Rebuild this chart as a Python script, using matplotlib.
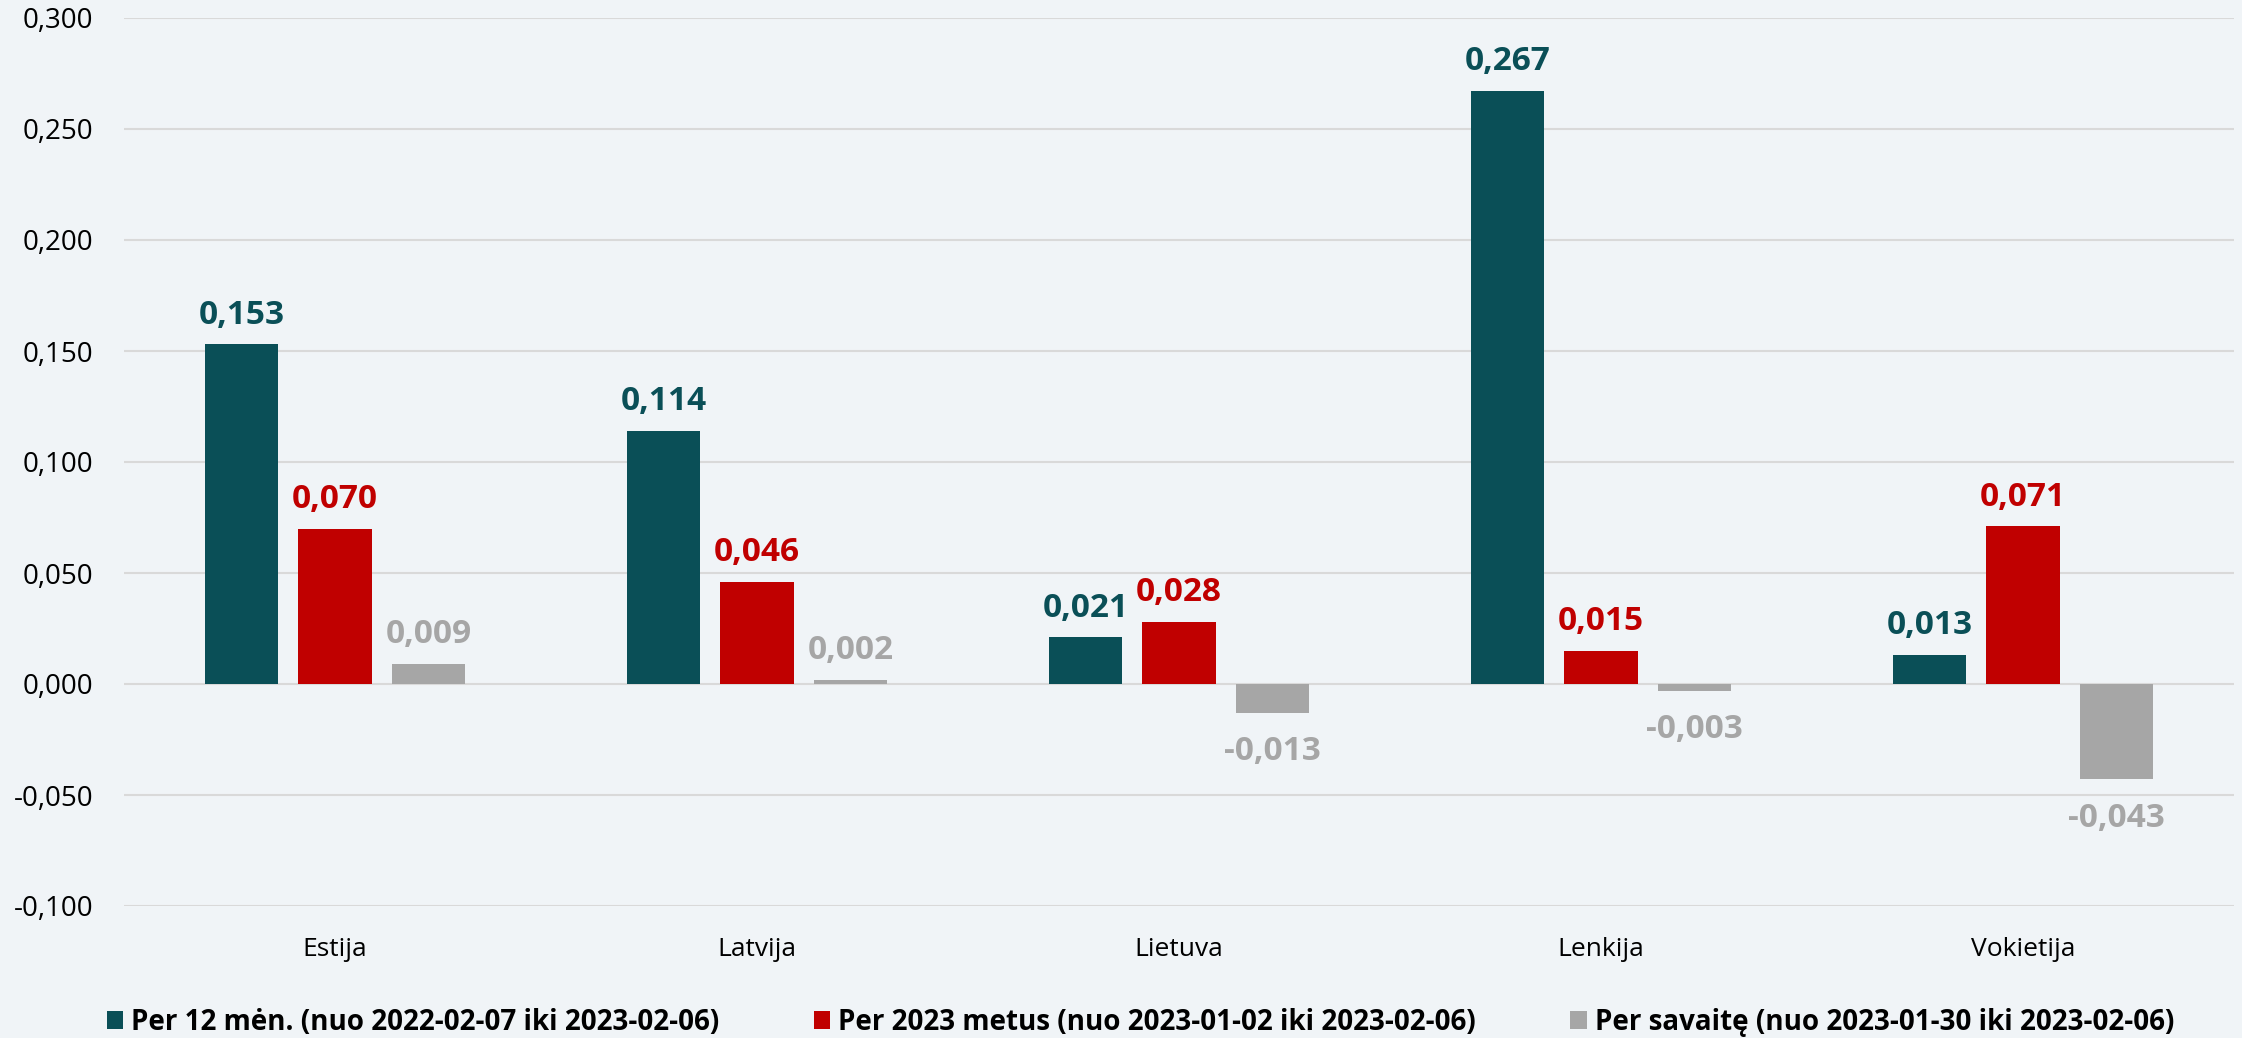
import numpy as np
import matplotlib.pyplot as plt

plt.rcParams['font.family'] = ['Open Sans', 'DejaVu Sans']

countries = ['Estija', 'Latvija', 'Lietuva', 'Lenkija', 'Vokietija']
per_12_men = [0.153, 0.114, 0.021, 0.267, 0.013]
per_2023 = [0.070, 0.046, 0.028, 0.015, 0.071]
per_savaite = [0.009, 0.002, -0.013, -0.003, -0.043]
series_names = ['Per 12 mėn. (nuo 2022-02-07 iki 2023-02-06)',
                'Per 2023 metus (nuo 2023-01-02 iki 2023-02-06)',
                'Per savaitę (nuo 2023-01-30 iki 2023-02-06)']
yticks = [-0.1, -0.05, 0.0, 0.05, 0.1, 0.15, 0.2, 0.25, 0.3]

bar_colors = ['#0A4F57', '#C00000', '#A6A6A6']
bg = '#F0F4F7'

fig = plt.figure(figsize=(22.42, 10.38), dpi=100, facecolor=bg)
ax = fig.add_axes([124/2242, 132/1038, 2110/2242, 888/1038])
ax.set_facecolor(bg)

x = np.arange(len(countries))
width = 0.175
step = 0.2216

all_series = [per_12_men, per_2023, per_savaite]
for i, vals in enumerate(all_series):
    pos = x + (i - 1) * step
    ax.bar(pos, vals, width, color=bar_colors[i], label=series_names[i], zorder=3)
    for px, v in zip(pos, vals):
        txt = '{:.3f}'.format(v).replace('.', ',')
        if v >= 0:
            ax.annotate(txt, (px, v), xytext=(0, 15), textcoords='offset points',
                        ha='center', va='baseline', fontsize=24, fontweight='bold',
                        color=bar_colors[i])
        else:
            ax.annotate(txt, (px, v), xytext=(0, -16), textcoords='offset points',
                        ha='center', va='top', fontsize=24, fontweight='bold',
                        color=bar_colors[i])

ax.set_xlim(-0.5, len(countries) - 0.5)
ax.set_ylim(-0.1, 0.3)
ax.set_yticks(yticks)
ax.set_yticklabels(['{:.3f}'.format(t).replace('.', ',') for t in yticks], fontsize=20)
ax.set_xticks(x)
ax.set_xticklabels(countries, fontsize=19)
ax.tick_params(axis='y', length=0, pad=22)
ax.tick_params(axis='x', length=0, pad=22)
ax.grid(axis='y', color='#D9D9D9', linewidth=1.5, zorder=0)
for s in ax.spines.values():
    s.set_visible(False)

leg = fig.legend(loc='lower center', bbox_to_anchor=(0.5087, -0.023), ncol=3,
                 frameon=False, prop={'size': 20, 'weight': 'bold'},
                 handlelength=0.58, handleheight=0.58, handletextpad=0.3,
                 columnspacing=3.4)

fig.savefig('out.png', dpi=100, facecolor=bg)
